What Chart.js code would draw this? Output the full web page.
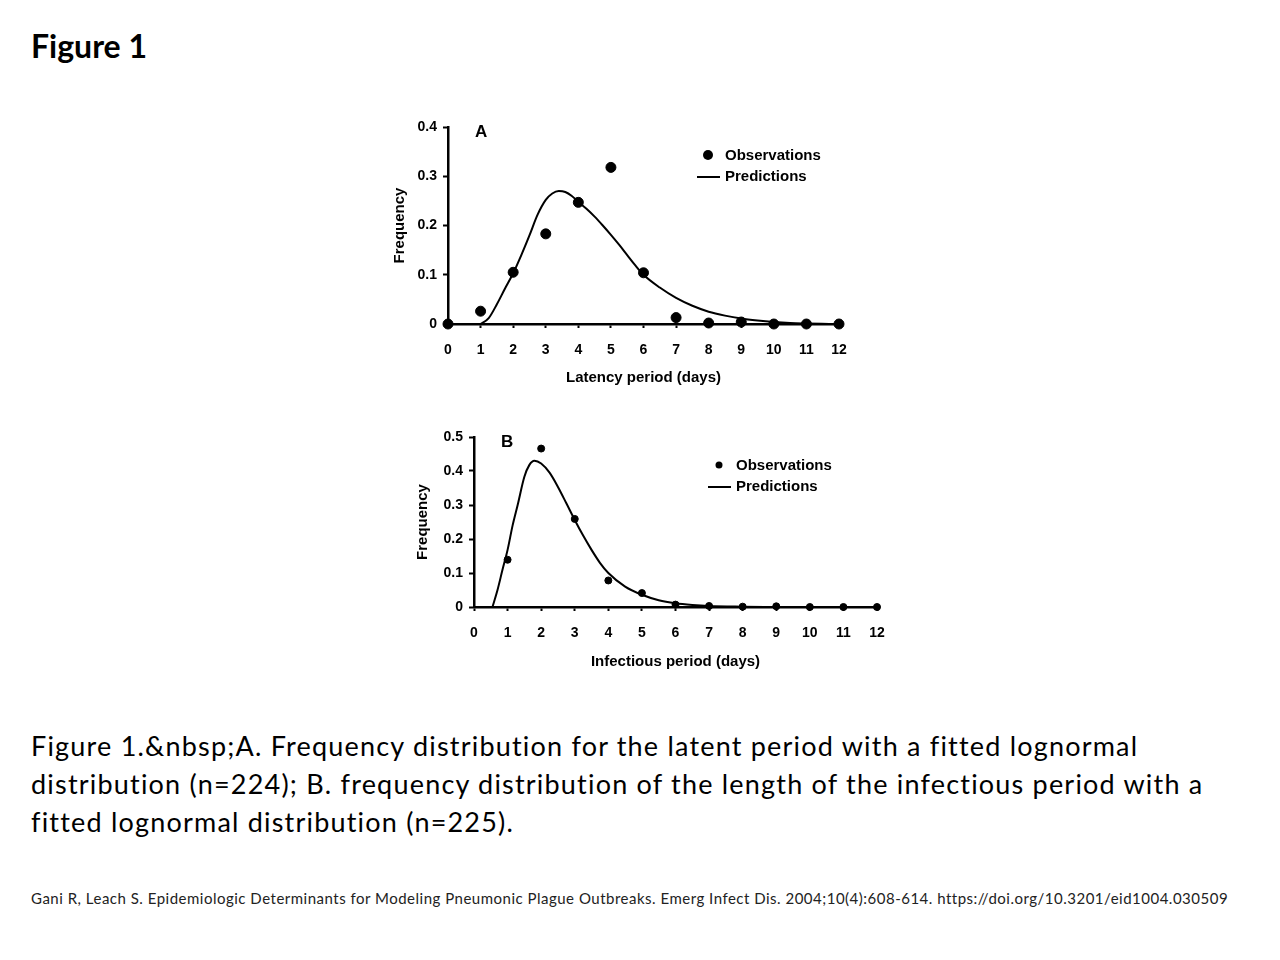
<!DOCTYPE html>
<html>
<head>
<meta charset="utf-8">
<script src="https://cdn.jsdelivr.net/npm/chart.js@4/dist/chart.umd.min.js"></script>
<style>
  body { margin: 0; width: 1280px; height: 960px; background: #fff; position: relative; font-family: Lato, "Open Sans", sans-serif; color: #000; }
  #title { position: absolute; left: 31px; top: 26px; font-size: 32px; font-weight: bold; }
  #caption { position: absolute; left: 31px; top: 727px; width: 1240px; font-size: 27px; letter-spacing: 1.2px; line-height: 38px; white-space: nowrap; }
  #cite { position: absolute; left: 31px; top: 889px; font-size: 15px; letter-spacing: 0.5px; color: #222; white-space: nowrap; }
  .box { position: absolute; }
</style>
</head>
<body>
<div id="title">Figure 1</div>
<div class="box" style="left:380px;top:110px;width:490px;height:285px"><canvas id="chartA"></canvas></div>
<div class="box" style="left:400px;top:420px;width:500px;height:270px"><canvas id="chartB"></canvas></div>
<div id="caption">Figure 1.&amp;nbsp;A. Frequency distribution for the latent period with a fitted lognormal<br>distribution (n=224); B. frequency distribution of the length of the infectious period with a<br>fitted lognormal distribution (n=225).</div>
<div id="cite">Gani R, Leach S. Epidemiologic Determinants for Modeling Pneumonic Plague Outbreaks. Emerg Infect Dis. 2004;10(4):608-614. https://doi.org/10.3201/eid1004.030509</div>
<script>
// panel A: latency period
const latDays = [0, 1, 2, 3, 4, 5, 6, 7, 8, 9, 10, 11, 12];
const latObs = [0, 0.026, 0.105, 0.183, 0.247, 0.318, 0.104, 0.013, 0.002, 0.004, 0, 0, 0];
const latPredX = [1, 1.25, 1.5, 1.75, 2, 2.25, 2.5, 2.75, 3, 3.2, 3.4, 3.6, 3.8, 4, 4.25, 4.5, 4.75, 5, 5.25, 5.5, 5.75, 6, 6.5, 7, 7.5, 8, 8.5, 9, 9.5, 10, 10.5, 11, 11.7];
const latPredY = [0, 0.012, 0.04, 0.072, 0.103, 0.14, 0.18, 0.222, 0.252, 0.265, 0.27, 0.268, 0.26, 0.248, 0.234, 0.218, 0.2, 0.181, 0.161, 0.14, 0.119, 0.1, 0.074, 0.053, 0.037, 0.025, 0.017, 0.011, 0.007, 0.004, 0.002, 0.001, 0];

// panel B: infectious period
const infDays = [1, 2, 3, 4, 5, 6, 7, 8, 9, 10, 11, 12];
const infObs = [0.139, 0.466, 0.259, 0.078, 0.041, 0.007, 0.003, 0.001, 0.002, 0, 0, 0];
const infPredX = [0.55, 0.7, 0.85, 1, 1.15, 1.3, 1.5, 1.65, 1.8, 2, 2.25, 2.5, 2.75, 3, 3.25, 3.5, 3.75, 4, 4.5, 5, 5.5, 6, 6.5, 7, 8, 9];
const infPredY = [0, 0.05, 0.11, 0.168, 0.24, 0.3, 0.383, 0.418, 0.43, 0.422, 0.395, 0.353, 0.305, 0.256, 0.21, 0.168, 0.13, 0.1, 0.06, 0.036, 0.02, 0.011, 0.006, 0.003, 0.001, 0];

const xTicks = [0, 1, 2, 3, 4, 5, 6, 7, 8, 9, 10, 11, 12];
const FONT = "'Liberation Sans', Arial, sans-serif";

function pts(xs, ys) {
  return xs.map((x, i) => ({ x, y: ys[i] }));
}

// legend + panel letter drawn in chart area corner
function overlay(letter, lx, ly, dotR) {
  return {
    id: "overlay" + letter,
    afterDraw(chart) {
      const { ctx, chartArea } = chart;
      ctx.save();
      ctx.fillStyle = "#000";
      ctx.strokeStyle = "#000";
      ctx.font = `bold 17px ${FONT}`;
      ctx.textBaseline = "middle";
      ctx.fillText(letter, chartArea.left + 27, chartArea.top + 5);
      ctx.font = `bold 15px ${FONT}`;
      const x = chartArea.left + lx;
      const y = chartArea.top + ly;
      ctx.beginPath();
      ctx.arc(x + 11, y, dotR, 0, Math.PI * 2);
      ctx.fill();
      ctx.fillText("Observations", x + 28, y + 1);
      ctx.lineWidth = 2;
      ctx.beginPath();
      ctx.moveTo(x, y + 22);
      ctx.lineTo(x + 23, y + 22);
      ctx.stroke();
      ctx.fillText("Predictions", x + 28, y + 22);
      ctx.restore();
    },
  };
}

function makeChart(id, cfg) {
  return new Chart(document.getElementById(id), {
    data: {
      datasets: [
        {
          type: "scatter",
          label: "Observations",
          data: pts(cfg.obsX, cfg.obsY),
          backgroundColor: "#000",
          borderColor: "#000",
          pointRadius: cfg.dotR,
          clip: false,
          order: 0,
        },
        {
          type: "line",
          label: "Predictions",
          data: pts(cfg.predX, cfg.predY),
          borderColor: "#000",
          borderWidth: 2,
          pointRadius: 0,
          cubicInterpolationMode: "monotone",
          fill: false,
          order: 1,
        },
      ],
    },
    options: {
      animation: false,
      responsive: true,
      maintainAspectRatio: false,
      layout: { padding: cfg.pad },
      plugins: { legend: { display: false }, tooltip: { enabled: false } },
      scales: {
        x: {
          type: "linear",
          min: 0,
          max: 12,
          afterBuildTicks: (s) => { s.ticks = xTicks.map((v) => ({ value: v })); },
          afterFit: (s) => { s.height = cfg.xH; },
          border: { color: "#000", width: 2.5 },
          grid: { drawOnChartArea: false, color: "#000", tickLength: 4, tickWidth: 2 },
          ticks: { color: "#000", padding: 14, maxRotation: 0, autoSkip: false, font: { family: FONT, size: 14, weight: "bold" } },
          title: { display: true, text: cfg.xTitle, color: "#000", padding: 0, font: { family: FONT, size: 15, weight: "bold" } },
        },
        y: {
          min: 0,
          max: cfg.yMax,
          afterFit: (s) => { s.width = cfg.yW; },
          border: { color: "#000", width: 2.5 },
          grid: { drawOnChartArea: false, color: "#000", tickLength: 5, tickWidth: 2 },
          ticks: {
            stepSize: 0.1,
            color: "#000",
            padding: 6,
            font: { family: FONT, size: 14, weight: "bold" },
            callback: (v) => (v === 0 ? "0" : v.toFixed(1)),
          },
          title: { display: true, text: "Frequency", color: "#000", padding: cfg.yTitlePad, font: { family: FONT, size: 15, weight: "bold" } },
        },
      },
    },
    plugins: [overlay(cfg.letter, cfg.legX, cfg.legY, cfg.dotR)],
  });
}

makeChart("chartA", {
  obsX: latDays, obsY: latObs, predX: latPredX, predY: latPredY,
  xTitle: "Latency period (days)", yMax: 0.4, letter: "A", dotR: 5,
  pad: { top: 17, right: 31, bottom: 8, left: 0 }, xH: 63, yW: 68, yTitlePad: { top: 11, bottom: 0 },
  legX: 249, legY: 28,
});

makeChart("chartB", {
  obsX: infDays, obsY: infObs, predX: infPredX, predY: infPredY,
  xTitle: "Infectious period (days)", yMax: 0.5, letter: "B", dotR: 3.5,
  pad: { top: 17, right: 23, bottom: 19, left: 0 }, xH: 64, yW: 74, yTitlePad: { top: 14, bottom: 0 },
  legX: 234, legY: 28,
});
</script>
</body>
</html>
